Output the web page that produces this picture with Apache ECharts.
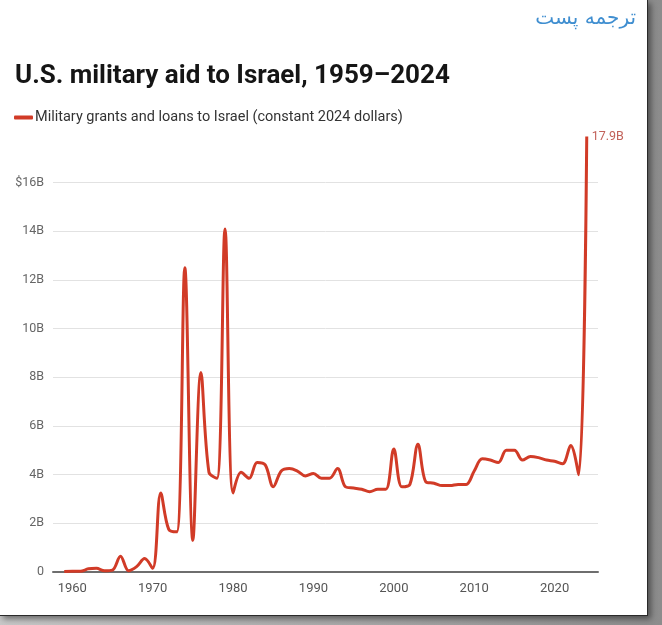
<!DOCTYPE html>
<html>
<head>
<meta charset="utf-8">
<script src="https://cdn.jsdelivr.net/npm/echarts@6/dist/echarts.min.js"></script>
<style>
  html, body { margin: 0; padding: 0; width: 662px; height: 625px; overflow: hidden; }
  body { background: linear-gradient(to right, #c8c8c8, #8c8c8c); position: relative; }
  #paper { position: absolute; left: 0; top: 0; width: 647px; height: 615px; background: #fff;
           border-right: 1px solid #2a2a2a; border-bottom: 1px solid #2a2a2a;
           box-shadow: 3px 3px 6px rgba(0,0,0,0.45); }
  #chart { position: absolute; left: 0; top: 0; width: 662px; height: 625px; }
</style>
</head>
<body>
<div id="paper"></div>
<div id="chart"></div>
<script>
// Data (billions of constant 2024 dollars)
const years = [1959,1960,1961,1962,1963,1964,1965,1966,1967,1968,1969,1970,1971,1972,1973,1974,1975,1976,1977,1978,1979,1980,1981,1982,1983,1984,1985,1986,1987,1988,1989,1990,1991,1992,1993,1994,1995,1996,1997,1998,1999,2000,2001,2002,2003,2004,2005,2006,2007,2008,2009,2010,2011,2012,2013,2014,2015,2016,2017,2018,2019,2020,2021,2022,2023,2024];
const aid = [0.02,0.03,0.03,0.13,0.15,0.05,0.08,0.65,0.05,0.22,0.55,0.15,3.25,1.75,1.65,12.5,1.3,8.2,4.1,3.85,14.1,3.25,4.1,3.85,4.5,4.4,3.5,4.15,4.25,4.15,3.95,4.05,3.85,3.85,4.25,3.5,3.45,3.4,3.3,3.4,3.4,5.05,3.5,3.6,5.25,3.7,3.65,3.55,3.55,3.6,3.6,4.15,4.65,4.6,4.5,5.0,5.0,4.6,4.75,4.7,4.6,4.55,4.45,5.2,4.0,17.9];
const xTicks = [1960,1970,1980,1990,2000,2010,2020];
const yTicks = [0,2,4,6,8,10,12,14,16];
const seriesName = 'Military grants and loans to Israel (constant 2024 dollars)';
const titleText = 'U.S. military aid to Israel, 1959\u20132024';
const topNote = '\u062a\u0631\u062c\u0645\u0647 \u067e\u0633\u062a';

const chart = echarts.init(document.getElementById('chart'), null, { renderer: 'canvas' });
const option = {
  backgroundColor: 'transparent',
  animation: false,
  textStyle: { fontFamily: 'Roboto, sans-serif' },
  title: {
    text: titleText,
    left: 10, top: 58,
    textStyle: { fontFamily: 'Roboto', fontWeight: 'bold', fontSize: 26, color: '#151515' }
  },
  graphic: [{
    type: 'text', right: 26, top: 9,
    style: { text: topNote, fontFamily: 'DejaVu Sans', fontSize: 20, fill: '#3f8ed0' }
  }],
  legend: {
    left: 9, top: 105,
    icon: 'roundRect', itemWidth: 19, itemHeight: 4, itemGap: 10,
    textStyle: { fontSize: 14.5, color: '#333', fontFamily: 'Roboto', padding: [0, 0, 0, -3] },
    data: [seriesName]
  },
  grid: { left: 53, right: 64, top: 134, bottom: 53, containLabel: false },
  xAxis: {
    type: 'value', min: 1957.6, max: 2025.4,
    axisLine: { lineStyle: { color: '#6e6e6e', width: 2 } },
    axisTick: { show: false },
    splitLine: { show: false },
    axisLabel: { customValues: xTicks, color: '#555', fontSize: 13, margin: 10, formatter: v => String(v) }
  },
  yAxis: {
    type: 'value', min: 0, max: 18,
    axisLine: { show: false },
    axisTick: { show: false, customValues: yTicks },
    splitLine: { show: true, lineStyle: { color: '#e2e2e2', width: 1 } },
    axisLabel: {
      customValues: yTicks, color: '#666', fontSize: 12.5, margin: 9,
      formatter: v => v === 0 ? '0' : (v === 16 ? '$' + v + 'B' : v + 'B')
    }
  },
  series: [{
    name: seriesName,
    type: 'line',
    data: years.map((y, i) => [y, aid[i]]),
    smooth: 0.35,
    showSymbol: false,
    symbol: 'none',
    lineStyle: { color: '#d13b27', width: 3 },
    itemStyle: { color: '#d13b27' },
    endLabel: {
      show: true, distance: 5,
      formatter: p => p.value[1].toFixed(1) + 'B',
      color: '#c2625a', fontSize: 12.5
    }
  }]
};
chart.setOption(option);
</script>
</body>
</html>
